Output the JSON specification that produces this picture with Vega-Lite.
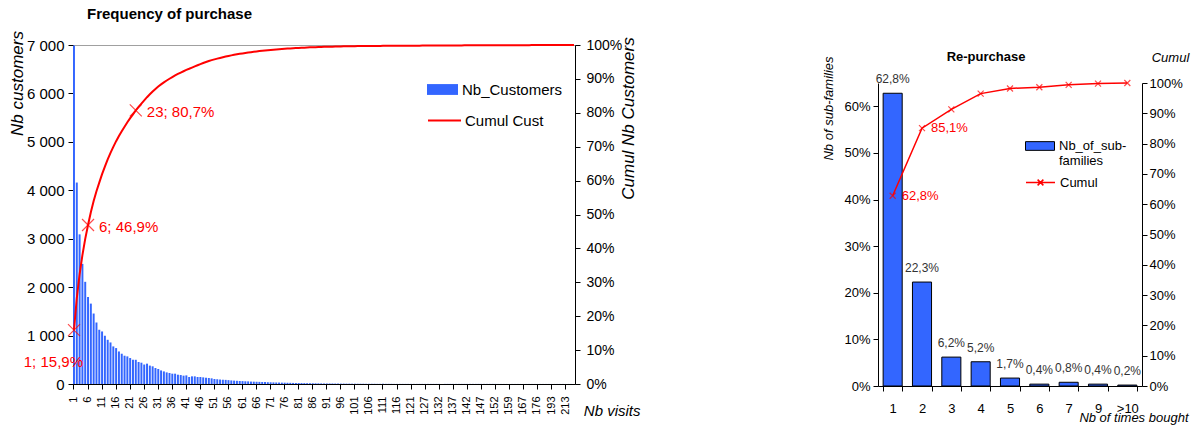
{
  "$schema": "https://vega.github.io/schema/vega-lite/v6.json",
  "background": "white",
  "padding": {"left": 7, "top": 6, "right": 2, "bottom": 2},
  "config": {
    "locale": {"number": {"decimal": ",", "thousands": " ", "grouping": [3], "currency": ["", " €"]}},
    "view": {"stroke": null},
    "font": "Liberation Sans",
    "axis": {"domainColor": "#000", "tickColor": "#000", "labelColor": "#000", "titleColor": "#000", "grid": false, "titleFontWeight": "normal", "titleFontStyle": "italic", "labelFont": "Liberation Sans", "titleFont": "Liberation Sans"},
    "legend": {"padding": 0, "labelFont": "Liberation Sans"},
    "title": {"color": "#000", "font": "Liberation Sans"}
  },
  "datasets": {
    "visits": [
      {"visits":1,"customers":6990,"cumul":0.159,"label":"1; 15,9%"},
      {"visits":2,"customers":4160,"cumul":0.2536},
      {"visits":3,"customers":3090,"cumul":0.3238},
      {"visits":4,"customers":2480,"cumul":0.3802},
      {"visits":5,"customers":2110,"cumul":0.4282},
      {"visits":6,"customers":1794,"cumul":0.469,"label":"6; 46,9%"},
      {"visits":7,"customers":1660,"cumul":0.5068},
      {"visits":8,"customers":1455,"cumul":0.5398},
      {"visits":9,"customers":1270,"cumul":0.5687},
      {"visits":10,"customers":1120,"cumul":0.5942},
      {"visits":11,"customers":1085,"cumul":0.6189},
      {"visits":12,"customers":996,"cumul":0.6415},
      {"visits":13,"customers":913,"cumul":0.6623},
      {"visits":14,"customers":858,"cumul":0.6818},
      {"visits":15,"customers":776,"cumul":0.6994},
      {"visits":16,"customers":742,"cumul":0.7163},
      {"visits":17,"customers":672,"cumul":0.7316},
      {"visits":18,"customers":625,"cumul":0.7458},
      {"visits":19,"customers":584,"cumul":0.7591},
      {"visits":20,"customers":570,"cumul":0.772},
      {"visits":21,"customers":536,"cumul":0.7842},
      {"visits":22,"customers":501,"cumul":0.7956},
      {"visits":23,"customers":500,"cumul":0.807,"label":"23; 80,7%"},
      {"visits":24,"customers":454,"cumul":0.8173},
      {"visits":25,"customers":440,"cumul":0.8273},
      {"visits":26,"customers":402,"cumul":0.8365},
      {"visits":27,"customers":420,"cumul":0.846},
      {"visits":28,"customers":380,"cumul":0.8547},
      {"visits":29,"customers":365,"cumul":0.863},
      {"visits":30,"customers":330,"cumul":0.8705},
      {"visits":31,"customers":310,"cumul":0.8775},
      {"visits":32,"customers":280,"cumul":0.8839},
      {"visits":33,"customers":260,"cumul":0.8898},
      {"visits":34,"customers":240,"cumul":0.8953},
      {"visits":35,"customers":227,"cumul":0.9004},
      {"visits":36,"customers":213,"cumul":0.9053},
      {"visits":37,"customers":213,"cumul":0.9101},
      {"visits":38,"customers":192,"cumul":0.9145},
      {"visits":39,"customers":185,"cumul":0.9187},
      {"visits":40,"customers":172,"cumul":0.9226},
      {"visits":41,"customers":178,"cumul":0.9266},
      {"visits":42,"customers":145,"cumul":0.9299},
      {"visits":43,"customers":158,"cumul":0.9335},
      {"visits":44,"customers":158,"cumul":0.9371},
      {"visits":45,"customers":145,"cumul":0.9404},
      {"visits":46,"customers":145,"cumul":0.9437},
      {"visits":47,"customers":137,"cumul":0.9468},
      {"visits":48,"customers":130,"cumul":0.9498},
      {"visits":49,"customers":124,"cumul":0.9526},
      {"visits":50,"customers":117,"cumul":0.9553},
      {"visits":51,"customers":103,"cumul":0.9576},
      {"visits":52,"customers":98,"cumul":0.9598},
      {"visits":53,"customers":92,"cumul":0.9619},
      {"visits":54,"customers":88,"cumul":0.9639},
      {"visits":55,"customers":85,"cumul":0.9659},
      {"visits":56,"customers":80,"cumul":0.9677},
      {"visits":57,"customers":74,"cumul":0.9694},
      {"visits":58,"customers":70,"cumul":0.971},
      {"visits":59,"customers":66,"cumul":0.9725},
      {"visits":60,"customers":62,"cumul":0.9739},
      {"visits":61,"customers":60,"cumul":0.9752},
      {"visits":62,"customers":56,"cumul":0.9765},
      {"visits":63,"customers":54,"cumul":0.9777},
      {"visits":64,"customers":50,"cumul":0.9789},
      {"visits":65,"customers":48,"cumul":0.98},
      {"visits":66,"customers":46,"cumul":0.981},
      {"visits":67,"customers":44,"cumul":0.982},
      {"visits":68,"customers":41,"cumul":0.983},
      {"visits":69,"customers":39,"cumul":0.9838},
      {"visits":70,"customers":37,"cumul":0.9847},
      {"visits":71,"customers":35,"cumul":0.9855},
      {"visits":72,"customers":33,"cumul":0.9862},
      {"visits":73,"customers":31,"cumul":0.9869},
      {"visits":74,"customers":30,"cumul":0.9876},
      {"visits":75,"customers":28,"cumul":0.9882},
      {"visits":76,"customers":27,"cumul":0.9889},
      {"visits":77,"customers":25,"cumul":0.9894},
      {"visits":78,"customers":24,"cumul":0.99},
      {"visits":79,"customers":22,"cumul":0.9905},
      {"visits":80,"customers":21,"cumul":0.9909},
      {"visits":81,"customers":20,"cumul":0.9914},
      {"visits":82,"customers":19,"cumul":0.9918},
      {"visits":83,"customers":18,"cumul":0.9922},
      {"visits":84,"customers":17,"cumul":0.9926},
      {"visits":85,"customers":16,"cumul":0.993},
      {"visits":86,"customers":15,"cumul":0.9933},
      {"visits":87,"customers":14,"cumul":0.9937},
      {"visits":88,"customers":13,"cumul":0.994},
      {"visits":89,"customers":12,"cumul":0.9942},
      {"visits":90,"customers":12,"cumul":0.9945},
      {"visits":91,"customers":11,"cumul":0.9947},
      {"visits":92,"customers":10,"cumul":0.995},
      {"visits":93,"customers":10,"cumul":0.9952},
      {"visits":94,"customers":9,"cumul":0.9954},
      {"visits":95,"customers":9,"cumul":0.9956},
      {"visits":96,"customers":8,"cumul":0.9958},
      {"visits":97,"customers":8,"cumul":0.996},
      {"visits":98,"customers":7,"cumul":0.9961},
      {"visits":99,"customers":7,"cumul":0.9963},
      {"visits":100,"customers":6,"cumul":0.9964},
      {"visits":101,"customers":6,"cumul":0.9966},
      {"visits":102,"customers":5,"cumul":0.9967},
      {"visits":103,"customers":5,"cumul":0.9968},
      {"visits":104,"customers":5,"cumul":0.9969},
      {"visits":105,"customers":4,"cumul":0.997},
      {"visits":106,"customers":4,"cumul":0.9971},
      {"visits":107,"customers":4,"cumul":0.9972},
      {"visits":108,"customers":4,"cumul":0.9973},
      {"visits":109,"customers":3,"cumul":0.9973},
      {"visits":110,"customers":3,"cumul":0.9974},
      {"visits":111,"customers":3,"cumul":0.9975},
      {"visits":112,"customers":3,"cumul":0.9975},
      {"visits":113,"customers":3,"cumul":0.9976},
      {"visits":114,"customers":3,"cumul":0.9977},
      {"visits":115,"customers":2,"cumul":0.9977},
      {"visits":116,"customers":2,"cumul":0.9978},
      {"visits":117,"customers":2,"cumul":0.9978},
      {"visits":118,"customers":2,"cumul":0.9979},
      {"visits":119,"customers":2,"cumul":0.9979},
      {"visits":120,"customers":2,"cumul":0.998},
      {"visits":121,"customers":2,"cumul":0.998},
      {"visits":122,"customers":2,"cumul":0.998},
      {"visits":123,"customers":2,"cumul":0.9981},
      {"visits":124,"customers":2,"cumul":0.9981},
      {"visits":126,"customers":2,"cumul":0.9982},
      {"visits":127,"customers":2,"cumul":0.9982},
      {"visits":128,"customers":2,"cumul":0.9983},
      {"visits":129,"customers":2,"cumul":0.9983},
      {"visits":130,"customers":2,"cumul":0.9984},
      {"visits":131,"customers":2,"cumul":0.9984},
      {"visits":132,"customers":2,"cumul":0.9985},
      {"visits":133,"customers":2,"cumul":0.9985},
      {"visits":134,"customers":2,"cumul":0.9985},
      {"visits":135,"customers":2,"cumul":0.9986},
      {"visits":136,"customers":2,"cumul":0.9986},
      {"visits":137,"customers":2,"cumul":0.9987},
      {"visits":138,"customers":2,"cumul":0.9987},
      {"visits":139,"customers":2,"cumul":0.9988},
      {"visits":140,"customers":2,"cumul":0.9988},
      {"visits":141,"customers":2,"cumul":0.9989},
      {"visits":142,"customers":2,"cumul":0.9989},
      {"visits":143,"customers":2,"cumul":0.999},
      {"visits":144,"customers":2,"cumul":0.999},
      {"visits":145,"customers":2,"cumul":0.9991},
      {"visits":146,"customers":2,"cumul":0.9991},
      {"visits":147,"customers":2,"cumul":0.9991},
      {"visits":148,"customers":2,"cumul":0.9992},
      {"visits":149,"customers":2,"cumul":0.9992},
      {"visits":150,"customers":2,"cumul":0.9993},
      {"visits":151,"customers":2,"cumul":0.9993},
      {"visits":152,"customers":2,"cumul":0.9994},
      {"visits":153,"customers":1,"cumul":0.9994},
      {"visits":155,"customers":1,"cumul":0.9994},
      {"visits":156,"customers":1,"cumul":0.9994},
      {"visits":158,"customers":1,"cumul":0.9995},
      {"visits":159,"customers":1,"cumul":0.9995},
      {"visits":160,"customers":1,"cumul":0.9995},
      {"visits":162,"customers":1,"cumul":0.9995},
      {"visits":164,"customers":1,"cumul":0.9996},
      {"visits":165,"customers":1,"cumul":0.9996},
      {"visits":167,"customers":1,"cumul":0.9996},
      {"visits":168,"customers":1,"cumul":0.9996},
      {"visits":170,"customers":1,"cumul":0.9996},
      {"visits":172,"customers":1,"cumul":0.9997},
      {"visits":174,"customers":1,"cumul":0.9997},
      {"visits":176,"customers":1,"cumul":0.9997},
      {"visits":178,"customers":1,"cumul":0.9997},
      {"visits":181,"customers":1,"cumul":0.9997},
      {"visits":185,"customers":1,"cumul":0.9998},
      {"visits":189,"customers":1,"cumul":0.9998},
      {"visits":193,"customers":1,"cumul":0.9998},
      {"visits":196,"customers":1,"cumul":0.9998},
      {"visits":199,"customers":1,"cumul":0.9998},
      {"visits":203,"customers":1,"cumul":0.9999},
      {"visits":208,"customers":1,"cumul":0.9999},
      {"visits":213,"customers":1,"cumul":0.9999},
      {"visits":221,"customers":1,"cumul":0.9999},
      {"visits":235,"customers":1,"cumul":1.0},
      {"visits":260,"customers":1,"cumul":1.0}
    ],
    "repurchase": [
      {"times":"1","share":0.628,"cumul":0.628},
      {"times":"2","share":0.223,"cumul":0.851},
      {"times":"3","share":0.062,"cumul":0.913},
      {"times":"4","share":0.052,"cumul":0.965},
      {"times":"5","share":0.017,"cumul":0.982},
      {"times":"6","share":0.004,"cumul":0.986},
      {"times":"7","share":0.008,"cumul":0.994},
      {"times":"9","share":0.004,"cumul":0.998},
      {"times":">10","share":0.002,"cumul":1.0}
    ]
  },
  "spacing": 180,
  "resolve": {
    "scale": {"color": "independent", "stroke": "independent"},
    "legend": {"color": "independent", "stroke": "independent"}
  },
  "hconcat": [
    {
      "width": 502,
      "height": 339,
      "view": {"stroke": "#a0a0a0"},
      "title": {"text": "Frequency of purchase", "frame": "group", "anchor": "start", "dx": 14, "offset": 2, "baseline": "middle", "fontSize": 15, "fontWeight": "bold"},
      "data": {"name": "visits"},
      "encoding": {
        "x": {
          "field": "visits", "type": "ordinal",
          "scale": {"paddingInner": 0.3, "paddingOuter": 0},
          "axis": {
            "values": [1,6,11,16,21,26,31,36,41,46,51,56,61,66,71,76,81,86,91,96,101,106,111,116,121,127,132,137,142,147,152,159,167,176,193,213],
            "labelAngle": 270, "labelAlign": "right", "labelBaseline": "middle", "labelOverlap": false,
            "labelFontSize": 11, "labelPadding": 7, "tickSize": 5,
            "title": "Nb visits", "titleFontSize": 15,
            "titleX": 567, "titleY": 26, "titleAlign": "right", "titleBaseline": "middle"
          }
        }
      },
      "layer": [
        {
          "mark": {"type": "bar"},
          "encoding": {
            "y": {
              "field": "customers", "type": "quantitative",
              "scale": {"domain": [0, 7000]},
              "axis": {
                "values": [0,1000,2000,3000,4000,5000,6000,7000], "format": ",.0f",
                "labelFontSize": 15, "labelPadding": 4, "tickSize": 5,
                "title": "Nb customers", "titleFontSize": 17,
                "titleAngle": -90, "titleX": -56, "titleY": 38, "titleAlign": "center", "titleBaseline": "middle"
              }
            },
            "color": {
              "datum": "Nb_Customers",
              "scale": {"range": ["#3366ff"]},
              "legend": {
                "orient": "none", "legendX": 354, "legendY": 29, "title": null,
                "symbolType": "M-1,-0.35H1V0.35H-1Z", "symbolSize": 961, "symbolStrokeWidth": 0,
                "labelFontSize": 15, "labelOffset": 4
              }
            }
          }
        },
        {
          "encoding": {
            "y": {
              "field": "cumul", "type": "quantitative",
              "scale": {"domain": [0, 1]},
              "axis": {
                "orient": "right",
                "values": [0,0.1,0.2,0.3,0.4,0.5,0.6,0.7,0.8,0.9,1], "format": ".0%",
                "labelFontSize": 14, "labelPadding": 6, "tickSize": 5,
                "title": "Cumul Nb Customers", "titleFontSize": 17,
                "titleAngle": -90, "titleX": 53, "titleY": 73, "titleAlign": "center", "titleBaseline": "middle"
              }
            }
          },
          "layer": [
            {
              "mark": {"type": "line", "strokeWidth": 2},
              "encoding": {
                "stroke": {
                  "datum": "Cumul Cust",
                  "scale": {"range": ["#ff0000"]},
                  "legend": {
                    "orient": "none", "legendX": 354, "legendY": 58, "title": null,
                    "symbolType": "stroke", "symbolSize": 1089, "symbolStrokeWidth": 2,
                    "labelFontSize": 15, "labelOffset": 3
                  }
                }
              }
            },
            {
              "transform": [{"filter": "isValid(datum.label)"}],
              "mark": {"type": "point", "shape": "M-1,-1L1,1M-1,1L1,-1", "size": 144, "color": "#ff0000", "strokeWidth": 1.2, "filled": false}
            },
            {
              "transform": [{"filter": "datum.visits == 6 || datum.visits == 23"}],
              "mark": {"type": "text", "align": "left", "baseline": "middle", "dx": 11, "dy": 2, "color": "#ff0000", "fontSize": 15},
              "encoding": {"text": {"field": "label"}}
            },
            {
              "transform": [{"filter": "datum.visits == 1"}],
              "mark": {"type": "text", "align": "right", "baseline": "middle", "dx": 9, "dy": 32, "color": "#ff0000", "fontSize": 15},
              "encoding": {"text": {"field": "label"}}
            }
          ]
        }
      ],
      "resolve": {"scale": {"y": "independent"}}
    },
    {
      "width": 264,
      "height": 341,
      "title": {"text": "Re-purchase", "frame": "group", "anchor": "middle", "offset": 0, "baseline": "middle", "dy": 25, "dx": -24, "fontSize": 13, "fontWeight": "bold"},
      "data": {"name": "repurchase"},
      "encoding": {
        "x": {
          "field": "times", "type": "nominal", "sort": null,
          "scale": {"paddingInner": 0.35},
          "axis": {
            "labelAngle": 0, "tickBand": "extent", "labelFontSize": 13, "labelPadding": 11, "tickSize": 5,
            "title": "Nb of times bought", "titleFontSize": 13,
            "titleX": 310, "titleY": 31, "titleAlign": "right", "titleBaseline": "middle"
          }
        }
      },
      "layer": [
        {
          "encoding": {
            "y": {
              "field": "share", "type": "quantitative",
              "scale": {"domain": [0, 0.65], "range": [341, 38]},
              "axis": {
                "values": [0,0.1,0.2,0.3,0.4,0.5,0.6], "format": ".0%",
                "labelFontSize": 13, "labelPadding": 3, "tickSize": 5,
                "title": "Nb of sub-families", "titleFontSize": 13,
                "titleAngle": -90, "titleX": -50, "titleY": 63, "titleAlign": "center", "titleBaseline": "middle"
              }
            }
          },
          "layer": [
            {
              "mark": {"type": "bar", "stroke": "#000", "strokeWidth": 1},
              "encoding": {
                "color": {
                  "datum": "Nb_of_sub-families",
                  "scale": {"range": ["#3366ff"]},
                  "legend": {
                    "orient": "none", "legendX": 147, "legendY": 86, "title": null,
                    "symbolType": "M-1,-0.3H1V0.3H-1Z", "symbolSize": 841, "symbolStrokeColor": "#000", "symbolStrokeWidth": 1,
                    "labelFontSize": 13, "labelOffset": 4,
                    "labelExpr": "datum.label == 'Nb_of_sub-families' ? ['Nb_of_sub-', 'families'] : datum.label"
                  }
                }
              }
            },
            {
              "mark": {"type": "text", "baseline": "bottom", "dy": -7, "fontSize": 12, "color": "#333"},
              "encoding": {"text": {"field": "share", "type": "quantitative", "format": ".1%"}}
            }
          ]
        },
        {
          "encoding": {
            "y": {
              "field": "cumul", "type": "quantitative",
              "scale": {"domain": [0, 1], "range": [341, 38]},
              "axis": {
                "orient": "right",
                "values": [0,0.1,0.2,0.3,0.4,0.5,0.6,0.7,0.8,0.9,1], "format": ".0%",
                "labelFontSize": 13, "labelPadding": 2, "tickSize": 5,
                "title": "Cumul", "titleFontSize": 13,
                "titleAngle": 0, "titleX": 28, "titleY": 12, "titleAlign": "center", "titleBaseline": "middle"
              }
            }
          },
          "layer": [
            {
              "mark": {"type": "line", "strokeWidth": 1.5},
              "encoding": {
                "stroke": {
                  "datum": "Cumul",
                  "scale": {"range": ["#ff0000"]},
                  "legend": {
                    "orient": "none", "legendX": 147, "legendY": 122, "title": null,
                    "symbolType": "M-1,0H1M-0.2,-0.2L0.2,0.2M-0.2,0.2L0.2,-0.2", "symbolSize": 841, "symbolStrokeWidth": 1.5,
                    "labelFontSize": 13, "labelOffset": 4
                  }
                }
              }
            },
            {
              "mark": {"type": "point", "shape": "M-1,-1L1,1M-1,1L1,-1", "size": 36, "color": "#ff0000", "strokeWidth": 1.2, "filled": false}
            },
            {
              "transform": [{"filter": "datum.times == '1' || datum.times == '2'"}],
              "mark": {"type": "text", "align": "left", "baseline": "middle", "dx": 9, "color": "#ff0000", "fontSize": 13},
              "encoding": {"text": {"field": "cumul", "type": "quantitative", "format": ".1%"}}
            }
          ]
        }
      ],
      "resolve": {"scale": {"y": "independent"}}
    }
  ]
}
